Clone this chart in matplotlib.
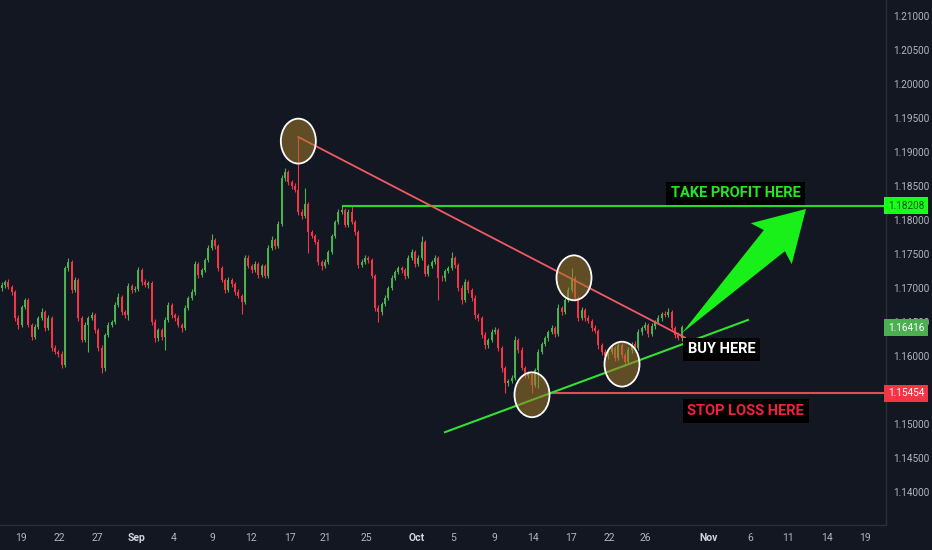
import matplotlib
matplotlib.use('Agg')
import matplotlib.pyplot as plt
import matplotlib.patches as mpatches
import numpy as np

# EURUSD-style candles, one entry per bar (open = previous close)
first_open = 1.1700
closes = [
    1.1704, 1.1709, 1.1701, 1.1694, 1.1656, 1.1646, 1.1672, 1.1682, 1.1646, 1.1628,
    1.1643, 1.1656, 1.1665, 1.1641, 1.1656, 1.1612, 1.1606, 1.1603, 1.1587, 1.1729,
    1.1738, 1.1697, 1.1712, 1.1656, 1.1624, 1.1646, 1.1656, 1.1660, 1.1638, 1.1612,
    1.1582, 1.1631, 1.1646, 1.1650, 1.1675, 1.1687, 1.1665, 1.1660, 1.1703, 1.1697,
    1.1699, 1.1726, 1.1709, 1.1704, 1.1707, 1.1650, 1.1626, 1.1638, 1.1628, 1.1653,
    1.1675, 1.1660, 1.1656, 1.1646, 1.1641, 1.1671, 1.1685, 1.1694, 1.1735, 1.1719,
    1.1726, 1.1741, 1.1759, 1.1771, 1.1762, 1.1729, 1.1712, 1.1697, 1.1712, 1.1706,
    1.1694, 1.1688, 1.1679, 1.1744, 1.1732, 1.1726, 1.1735, 1.1719, 1.1732, 1.1718,
    1.1759, 1.1771, 1.1762, 1.1794, 1.1862, 1.1871, 1.1856, 1.1850, 1.1844, 1.1812,
    1.1806, 1.1824, 1.1782, 1.1776, 1.1768, 1.1738, 1.1732, 1.1738, 1.1753, 1.1776,
    1.1797, 1.1812, 1.1815, 1.1793, 1.1812, 1.1797, 1.1782, 1.1734, 1.1738, 1.1744,
    1.1741, 1.1718, 1.1671, 1.1665, 1.1676, 1.1685, 1.1700, 1.1715, 1.1724, 1.1729,
    1.1726, 1.1718, 1.1744, 1.1753, 1.1735, 1.1744, 1.1768, 1.1721, 1.1732, 1.1738,
    1.1744, 1.1715, 1.1714, 1.1725, 1.1729, 1.1744, 1.1734, 1.1700, 1.1682, 1.1709,
    1.1697, 1.1685, 1.1660, 1.1656, 1.1631, 1.1616, 1.1624, 1.1635, 1.1638, 1.1612,
    1.1582, 1.1560, 1.1563, 1.1568, 1.1624, 1.1609, 1.1582, 1.1571, 1.1574, 1.1557,
    1.1579, 1.1606, 1.1618, 1.1626, 1.1635, 1.1641, 1.1632, 1.1671, 1.1665, 1.1682,
    1.1697, 1.1715, 1.1685, 1.1656, 1.1668, 1.1656, 1.1651, 1.1641, 1.1637, 1.1616,
    1.1606, 1.1600, 1.1606, 1.1612, 1.1597, 1.1616, 1.1601, 1.1591, 1.1609, 1.1618,
    1.1612, 1.1635, 1.1641, 1.1646, 1.1632, 1.1644, 1.1650, 1.1656, 1.1662, 1.1661,
    1.1665, 1.1641, 1.1631, 1.1626, 1.1642,
]
# wick lengths in pips above / below the body
wick_up = [
    5, 3, 4, 3, 3, 4, 3, 4, 3, 3,   4, 3, 5, 3, 4, 3, 4, 3, 4, 4,
    6, 3, 4, 3, 3, 4, 3, 4, 3, 3,   4, 3, 4, 3, 4, 5, 3, 3, 4, 3,
    4, 5, 3, 4, 3, 3, 4, 3, 3, 4,   4, 3, 3, 4, 3, 4, 3, 4, 5, 3,
    4, 3, 4, 8, 3, 3, 4, 3, 4, 3,   3, 4, 3, 5, 4, 3, 5, 3, 4, 3,
    4, 5, 3, 4, 4, 5, 3, 3, 4, 78,  4, 23, 3, 4, 3, 4, 3, 4, 3, 4,
    3, 4, 6, 3, 4, 9, 3, 3, 4, 4,   3, 3, 3, 4, 3, 4, 3, 4, 3, 4,
    3, 3, 4, 5, 3, 4, 8, 3, 4, 3,   4, 3, 4, 3, 4, 9, 3, 3, 4, 4,
    3, 3, 4, 3, 3, 4, 3, 4, 4, 3,   3, 4, 3, 4, 5, 3, 4, 3, 4, 3,
    4, 4, 3, 4, 3, 4, 3, 5, 3, 4,   5, 14, 3, 3, 4, 3, 4, 3, 4, 3,
    3, 4, 3, 4, 3, 4, 3, 3, 4, 3,   4, 5, 3, 4, 3, 4, 3, 4, 3, 4,
    5, 3, 3, 4, 3,
]
wick_down = [
    4, 4, 3, 4, 5, 6, 4, 3, 4, 5,   3, 4, 3, 4, 3, 4, 3, 4, 5, 3,
    4, 4, 3, 5, 4, 3, 40, 3, 4, 5,  7, 4, 3, 4, 3, 3, 4, 4, 7, 4,
    3, 3, 4, 3, 4, 4, 5, 4, 4, 19,  3, 4, 4, 3, 6, 3, 4, 3, 4, 4,
    3, 3, 3, 3, 4, 4, 3, 5, 3, 4,   4, 3, 17, 3, 3, 4, 3, 4, 3, 4,
    3, 3, 4, 3, 3, 4, 4, 4, 3, 4,   4, 3, 31, 3, 4, 4, 5, 3, 3, 3,
    3, 3, 3, 4, 3, 3, 4, 4, 3, 3,   4, 4, 5, 15, 4, 3, 3, 3, 3, 3,
    4, 5, 3, 3, 4, 3, 3, 4, 3, 3,   3, 33, 3, 4, 3, 3, 4, 5, 6, 3,
    4, 4, 5, 4, 4, 5, 4, 3, 3, 4,   5, 14, 4, 3, 4, 4, 3, 4, 3, 12,
    3, 26, 3, 3, 4, 3, 4, 3, 4, 3,  3, 3, 4, 5, 3, 4, 3, 4, 3, 5,
    4, 3, 4, 3, 5, 3, 4, 5, 3, 4,   3, 3, 4, 3, 4, 3, 4, 3, 4, 3,
    3, 4, 5, 3, 4,
]

# date labels along the bar index axis
date_ticks = [5.8, 17.2, 28.6, 40.3, 51.7, 63.1, 74.8, 86.5, 97.0, 109.3, 124.6,
              135.4, 147.7, 159.4, 170.8, 182.2, 193.0, 212.2, 224.5, 235.9, 247.6, 259.0]
date_labels = ['19', '22', '27', 'Sep', '4', '9', '12', '17', '21', '25', 'Oct',
               '5', '9', '14', '17', '22', '26', 'Nov', '6', '11', '14', '19']
months = ['Sep', 'Oct', 'Nov']

# price scale labels (1.15500 is hidden behind the stop loss tag on the chart)
price_ticks = [1.140, 1.145, 1.150, 1.160, 1.165, 1.170, 1.175, 1.180,
               1.185, 1.190, 1.195, 1.200, 1.205, 1.210]

take_profit = 1.18208
stop_loss = 1.15454
last_price = 1.16416

# drawing anchors (bar index, price)
resistance = [(89, 1.1922), (205.0, 1.1627)]
support = [(133.0, 1.1488), (223.9, 1.1653)]
circles = [(89, 1.1916), (171.7, 1.1715), (186.1, 1.1588), (159.1, 1.1543)]
arrow_from = (204.1, 1.16338)
arrow_to = (241.3, 1.18162)

BG = '#131722'
UP = '#4caf50'
DOWN = '#f23645'
PIP = 0.0001

plt.rcParams['font.family'] = ['Roboto', 'DejaVu Sans']

fig = plt.figure(figsize=(9.32, 5.5), dpi=100, facecolor=BG)
ax = fig.add_axes([0, 25 / 550, 886 / 932, 525 / 550])
ax.set_facecolor(BG)
ax.set_xlim(-0.5, 265.3)
ax.set_ylim(1.13515, 1.21235)

# candles
c = np.array(closes)
o = np.concatenate([[first_open], c[:-1]])
hi = np.maximum(o, c) + np.array(wick_up) * PIP
lo = np.minimum(o, c) - np.array(wick_down) * PIP
idx = np.arange(len(c))
cols = [UP if cc >= oo else DOWN for oo, cc in zip(o, c)]
ax.vlines(idx, lo, hi, colors=cols, lw=0.8, zorder=2)
ax.bar(idx, np.maximum(np.abs(c - o), 0.00008), bottom=np.minimum(o, c),
       width=0.62, color=cols, lw=0, zorder=2)

# levels and trend lines
ax.hlines(take_profit, 102, 266, color='#22dd22', lw=1.5, zorder=3)
ax.hlines(stop_loss, 164.5, 266, color='#d9505c', lw=1.5, zorder=3)
ax.plot(*zip(*resistance), color='#f05a64', lw=1.3, zorder=3)
ax.plot(*zip(*support), color='#33e033', lw=1.5, zorder=3)

for cx, cy in circles:
    ax.add_patch(mpatches.Ellipse((cx, cy), 10.5, 0.0066, fc=(0.63, 0.47, 0.16, 0.55),
                                  ec='white', lw=1.3, zorder=4))

# big arrow, built in pixel space then mapped back to data
t = ax.transData.transform(arrow_from)
p = ax.transData.transform(arrow_to)
L = np.hypot(*(p - t))
u = (p - t) / L
v = np.array([-u[1], u[0]])
pts = [t,
       t + 0.745 * L * u + 0.085 * L * v,
       t + 0.72 * L * u + 0.165 * L * v,
       p,
       t + 0.72 * L * u - 0.165 * L * v,
       t + 0.745 * L * u - 0.085 * L * v]
pts = ax.transData.inverted().transform(np.array(pts))
ax.add_patch(mpatches.Polygon(pts, closed=True, fc='#19f019', ec='none', zorder=6))

# labels
box = dict(boxstyle='square,pad=0.32', fc='black', ec='none')
ax.text(220.2, 1.1839, 'TAKE PROFIT HERE', color='#22e822', fontsize=10.5,
        fontweight='bold', ha='center', va='center', bbox=box, zorder=7)
ax.text(216.0, 1.1610, 'BUY HERE', color='white', fontsize=10.5,
        fontweight='bold', ha='center', va='center', bbox=box, zorder=7)
ax.text(223.2, 1.1519, 'STOP LOSS HERE', color='#f2203c', fontsize=10.5,
        fontweight='bold', ha='center', va='center', bbox=box, zorder=7)

# axes styling
for s in ['top', 'left']:
    ax.spines[s].set_visible(False)
for s in ['right', 'bottom']:
    ax.spines[s].set_color('#2a2e39')
    ax.spines[s].set_linewidth(1)
ax.yaxis.tick_right()
ax.set_yticks(price_ticks)
ax.set_yticklabels([f'{y:.5f}' for y in price_ticks])
ax.tick_params(axis='y', length=0, pad=5, labelsize=7.2, labelcolor='#b2b5be')
ax.set_xticks(date_ticks)
ax.set_xticklabels(date_labels)
ax.tick_params(axis='x', length=0, pad=6, labelsize=7.5, labelcolor='#b2b5be')
for lbl in ax.get_xticklabels():
    if lbl.get_text() in months:
        lbl.set_fontweight('bold')
        lbl.set_color('#d1d4dc')

ytr = ax.get_yaxis_transform()
for price, fc, tc in [(take_profit, '#1aff1a', '#145214'),
                      (last_price, '#4caf50', 'white'),
                      (stop_loss, '#f23645', 'white')]:
    ax.text(1.002, price, f'{price:.5f}', transform=ytr, ha='left', va='center',
            fontsize=7.2, color=tc, clip_on=False, zorder=8,
            bbox=dict(boxstyle='square,pad=0.35', fc=fc, ec='none'))

fig.savefig('out.png', dpi=100, facecolor=BG)
